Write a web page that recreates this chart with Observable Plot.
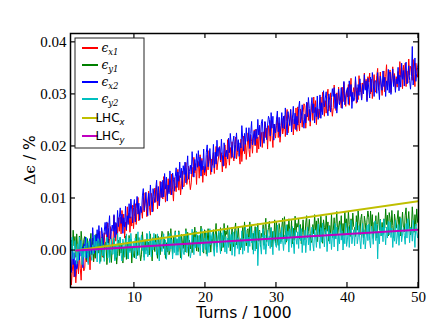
<!DOCTYPE html>
<html><head><meta charset="utf-8">
<script src="https://cdn.jsdelivr.net/npm/d3@7"></script>
<script src="https://cdn.jsdelivr.net/npm/@observablehq/plot@0.6"></script>
<style>body{margin:0;background:#fff;} svg{display:block} svg g.ticklab text{font-family:'Liberation Serif','DejaVu Serif',serif !important;}</style>
</head><body><div id="chart"></div>
<script>
// sample turns (thousands): 1 to 50, every 0.125
const turns = d3.range(1, 50.001, 0.125);

const ex1 = [
-.0023,-.0066,-.0040,-.0017,-.0051,-.0030,-.0062,-.0036,
-.0021,-.0045,-.0005,-.0034,-.0057,-.0012,-.0027,-.0039,
-.0034,-.0004,-.0022,.0015,-.0015,.0003,-.0037,.0008,
-.0009,.0023,-.0022,.0008,-.0015,.0031,.0000,.0017,
.0020,.0037,-.0003,.0025,-.0012,.0009,.0034,.0004,
.0007,.0039,.0053,.0011,.0023,.0046,.0018,.0001,
.0024,.0067,.0041,.0018,.0052,.0031,.0063,.0037,
.0064,.0032,.0077,.0047,.0070,.0024,.0055,.0038,
.0084,.0054,.0072,.0035,.0065,.0047,.0087,.0042,
.0066,.0090,.0050,.0079,.0102,.0057,.0072,.0084,
.0079,.0062,.0102,.0074,.0111,.0090,.0065,.0095,
.0114,.0082,.0068,.0110,.0098,.0075,.0103,.0120,
.0093,.0125,.0080,.0110,.0087,.0133,.0102,.0119,
.0099,.0142,.0116,.0093,.0127,.0106,.0138,.0112,
.0131,.0107,.0147,.0118,.0095,.0140,.0125,.0113,
.0139,.0156,.0116,.0144,.0107,.0128,.0153,.0123,
.0123,.0155,.0169,.0127,.0139,.0162,.0134,.0117,
.0130,.0160,.0142,.0179,.0149,.0167,.0127,.0172,
.0171,.0139,.0184,.0154,.0177,.0131,.0162,.0145,
.0160,.0143,.0183,.0155,.0192,.0171,.0146,.0176,
.0164,.0188,.0148,.0177,.0200,.0155,.0170,.0182,
.0200,.0170,.0188,.0151,.0181,.0163,.0203,.0158,
.0170,.0213,.0187,.0164,.0198,.0177,.0209,.0183,
.0172,.0204,.0218,.0176,.0188,.0211,.0183,.0166,
.0214,.0171,.0197,.0220,.0186,.0207,.0175,.0201,
.0226,.0194,.0180,.0222,.0210,.0187,.0215,.0232,
.0201,.0233,.0188,.0218,.0195,.0241,.0210,.0227,
.0198,.0228,.0210,.0247,.0217,.0235,.0195,.0240,
.0234,.0210,.0250,.0221,.0198,.0243,.0228,.0216,
.0240,.0257,.0217,.0245,.0208,.0229,.0254,.0224,
.0235,.0259,.0219,.0248,.0271,.0226,.0241,.0253,
.0271,.0241,.0259,.0222,.0252,.0234,.0274,.0229,
.0276,.0244,.0230,.0272,.0260,.0237,.0265,.0282,
.0278,.0235,.0261,.0284,.0250,.0271,.0239,.0265,
.0282,.0250,.0295,.0265,.0288,.0242,.0273,.0256,
.0272,.0255,.0295,.0267,.0304,.0283,.0258,.0288,
.0264,.0296,.0310,.0268,.0280,.0303,.0275,.0258,
.0275,.0318,.0292,.0269,.0303,.0282,.0314,.0288,
.0291,.0274,.0314,.0286,.0323,.0302,.0277,.0307,
.0295,.0319,.0279,.0308,.0331,.0286,.0301,.0313,
.0296,.0328,.0283,.0313,.0290,.0336,.0305,.0322,
.0292,.0322,.0304,.0341,.0311,.0329,.0289,.0334,
.0324,.0341,.0301,.0329,.0292,.0313,.0338,.0308,
.0304,.0336,.0350,.0308,.0320,.0343,.0315,.0298,
.0321,.0345,.0305,.0334,.0357,.0312,.0327,.0339,
.0347,.0304,.0330,.0353,.0319,.0340,.0308,.0334,
.0314,.0344,.0326,.0363,.0333,.0351,.0311,.0356,
.0328,.0360,.0315,.0345,.0322,.0368,.0337,.0354,
.0351,.0327,.0367,.0338,.0315,.0360,.0345,.0333,
.0348];

const ey1 = [
-.0010,.0020,.0002,.0039,.0009,.0027,-.0013,.0032,
.0005,-.0012,.0028,.0000,.0037,.0016,-.0009,.0021,
.0027,-.0005,-.0019,.0023,.0011,-.0012,.0016,.0033,
-.0008,.0024,-.0021,.0009,-.0014,.0032,.0001,.0018,
-.0005,.0019,-.0021,.0008,.0031,-.0014,.0001,.0013,
.0016,-.0027,-.0001,.0022,-.0012,.0009,-.0023,.0003,
.0006,.0023,-.0017,.0011,-.0026,-.0005,.0020,-.0010,
.0025,-.0005,.0013,-.0024,.0006,-.0012,.0028,-.0017,
.0016,-.0016,.0029,-.0001,.0022,-.0024,.0007,-.0010,
-.0014,.0018,.0032,-.0010,.0002,.0025,-.0003,-.0020,
-.0007,.0036,.0010,-.0013,.0021,.0000,.0032,.0006,
.0016,-.0008,.0032,.0003,-.0020,.0025,.0010,-.0002,
.0031,-.0001,-.0015,.0027,.0015,-.0008,.0020,.0037,
.0034,.0004,.0022,-.0015,.0015,-.0003,.0037,-.0008,
-.0001,.0042,.0016,-.0007,.0027,.0006,.0038,.0012,
.0022,-.0002,.0038,.0009,-.0014,.0031,.0016,.0004,
.0029,-.0003,.0042,.0012,.0035,-.0011,.0020,.0003,
.0013,-.0004,.0036,.0008,.0045,.0024,-.0001,.0029,
-.0002,.0028,.0010,.0047,.0017,.0035,-.0005,.0040,
.0036,-.0007,.0019,.0042,.0008,.0029,-.0003,.0023,
.0016,.0040,.0000,.0029,.0052,.0007,.0022,.0034,
.0012,.0044,-.0001,.0029,.0006,.0052,.0021,.0038,
.0031,.0048,.0008,.0036,-.0001,.0020,.0045,.0015,
.0007,.0039,.0053,.0011,.0023,.0046,.0018,.0001,
.0023,.0006,.0046,.0018,.0055,.0034,.0009,.0039,
.0042,.0010,.0055,.0025,.0048,.0002,.0033,.0016,
.0046,.0003,.0029,.0052,.0018,.0039,.0007,.0033,
.0026,.0050,.0010,.0039,.0062,.0017,.0032,.0044,
.0056,.0026,.0044,.0007,.0037,.0019,.0059,.0014,
.0056,.0024,.0010,.0052,.0040,.0017,.0045,.0062,
.0022,.0065,.0039,.0016,.0050,.0029,.0061,.0035,
.0026,.0058,.0013,.0043,.0020,.0066,.0035,.0052,
.0045,.0062,.0022,.0050,.0013,.0034,.0059,.0029,
.0021,.0053,.0067,.0025,.0037,.0060,.0032,.0015,
.0020,.0050,.0032,.0069,.0039,.0057,.0017,.0062,
.0050,.0026,.0066,.0037,.0014,.0059,.0044,.0032,
.0067,.0037,.0055,.0018,.0048,.0030,.0070,.0025,
.0039,.0063,.0023,.0052,.0075,.0030,.0045,.0057,
.0035,.0067,.0022,.0052,.0029,.0075,.0044,.0061,
.0033,.0076,.0050,.0027,.0061,.0040,.0072,.0046,
.0044,.0027,.0067,.0039,.0076,.0055,.0030,.0060,
.0070,.0038,.0024,.0066,.0054,.0031,.0059,.0076,
.0063,.0031,.0076,.0046,.0069,.0023,.0054,.0037,
.0067,.0024,.0050,.0073,.0039,.0060,.0028,.0054,
.0031,.0061,.0043,.0080,.0050,.0068,.0028,.0073,
.0061,.0037,.0077,.0048,.0025,.0070,.0055,.0043,
.0060,.0077,.0037,.0065,.0028,.0049,.0074,.0044,
.0036,.0068,.0082,.0040,.0052,.0075,.0047,.0030,
.0041,.0084,.0058,.0035,.0069,.0048,.0080,.0054,
.0060];

const ex2 = [
-.0010,-.0042,.0003,-.0027,-.0004,-.0050,-.0019,-.0036,
-.0030,.0000,-.0018,.0019,-.0011,.0007,-.0033,.0012,
.0009,.0026,-.0014,.0014,-.0023,-.0002,.0023,-.0007,
.0001,.0044,.0018,-.0005,.0029,.0008,.0040,.0014,
.0048,.0016,.0002,.0044,.0032,.0009,.0037,.0054,
.0031,.0055,.0015,.0044,.0067,.0022,.0037,.0049,
.0037,.0069,.0024,.0054,.0031,.0077,.0046,.0063,
.0082,.0052,.0070,.0033,.0063,.0045,.0085,.0040,
.0067,.0050,.0090,.0062,.0099,.0078,.0053,.0083,
.0098,.0055,.0081,.0104,.0070,.0091,.0059,.0085,
.0073,.0105,.0119,.0077,.0089,.0112,.0084,.0067,
.0110,.0086,.0126,.0097,.0074,.0119,.0104,.0092,
.0118,.0135,.0095,.0123,.0086,.0107,.0132,.0102,
.0135,.0103,.0148,.0118,.0141,.0095,.0126,.0109,
.0153,.0121,.0107,.0149,.0137,.0114,.0142,.0159,
.0121,.0151,.0133,.0170,.0140,.0158,.0118,.0163,
.0146,.0170,.0130,.0159,.0182,.0137,.0152,.0164,
.0147,.0190,.0164,.0141,.0175,.0154,.0186,.0160,
.0192,.0162,.0180,.0143,.0173,.0155,.0195,.0150,
.0157,.0189,.0203,.0161,.0173,.0196,.0168,.0151,
.0172,.0204,.0159,.0189,.0166,.0212,.0181,.0198,
.0198,.0174,.0214,.0185,.0162,.0207,.0192,.0180,
.0193,.0176,.0216,.0188,.0225,.0204,.0179,.0209,
.0220,.0177,.0203,.0226,.0192,.0213,.0181,.0207,
.0197,.0240,.0214,.0191,.0225,.0204,.0236,.0210,
.0212,.0236,.0196,.0225,.0248,.0203,.0218,.0230,
.0203,.0233,.0215,.0252,.0222,.0240,.0200,.0245,
.0252,.0220,.0206,.0248,.0236,.0213,.0241,.0258,
.0252,.0220,.0265,.0235,.0258,.0212,.0243,.0226,
.0251,.0268,.0228,.0256,.0219,.0240,.0265,.0235,
.0258,.0234,.0274,.0245,.0222,.0267,.0252,.0240,
.0271,.0228,.0254,.0277,.0243,.0264,.0232,.0258,
.0241,.0273,.0287,.0245,.0257,.0280,.0252,.0235,
.0262,.0245,.0285,.0257,.0294,.0273,.0248,.0278,
.0294,.0264,.0282,.0245,.0275,.0257,.0297,.0252,
.0267,.0299,.0254,.0284,.0261,.0307,.0276,.0293,
.0305,.0273,.0259,.0301,.0289,.0266,.0294,.0311,
.0296,.0313,.0273,.0301,.0264,.0285,.0310,.0280,
.0289,.0313,.0273,.0302,.0325,.0280,.0295,.0307,
.0313,.0281,.0326,.0296,.0319,.0273,.0304,.0287,
.0291,.0334,.0308,.0285,.0319,.0298,.0330,.0304,
.0289,.0319,.0301,.0338,.0308,.0326,.0286,.0331,
.0310,.0293,.0333,.0305,.0342,.0321,.0296,.0326,
.0326,.0302,.0342,.0313,.0290,.0335,.0320,.0308,
.0345,.0315,.0333,.0296,.0326,.0308,.0348,.0303,
.0343,.0300,.0326,.0349,.0315,.0336,.0304,.0330,
.0320,.0352,.0307,.0337,.0314,.0360,.0329,.0346,
.0316,.0348,.0362,.0320,.0332,.0355,.0327,.0310,
.0334,.0392,.0318,.0347,.0370,.0325,.0340,.0352,
.0362];

const ey2 = [
-.0020,.0012,.0026,-.0016,-.0004,.0019,-.0009,-.0026,
.0013,-.0019,.0026,-.0004,.0019,-.0027,.0004,-.0013,
.0009,-.0015,.0025,-.0004,-.0027,.0018,.0003,-.0009,
-.0019,.0011,-.0007,.0030,.0000,.0018,-.0022,.0023,
.0018,-.0025,.0001,.0024,-.0010,.0011,-.0021,.0005,
.0009,.0026,-.0014,.0014,-.0023,-.0002,.0023,-.0007,
-.0007,.0025,-.0020,.0010,-.0013,.0033,.0002,.0019,
.0026,-.0006,-.0020,.0022,.0010,-.0013,.0015,.0032,
.0001,-.0016,.0024,-.0004,.0033,.0012,-.0013,.0017,
.0000,.0024,-.0016,.0013,.0036,-.0009,.0006,.0018,
.0030,.0000,.0018,-.0019,.0011,-.0007,.0033,-.0012,
-.0006,.0037,.0011,-.0012,.0022,.0001,.0033,.0007,
.0016,-.0008,.0032,.0003,-.0020,.0025,.0010,-.0002,
.0015,.0032,-.0008,.0020,-.0017,.0004,.0029,-.0001,
.0033,.0003,.0021,-.0016,.0014,-.0004,.0036,-.0009,
.0023,-.0009,.0036,.0006,.0029,-.0017,.0014,-.0003,
-.0008,.0024,.0038,-.0004,.0008,.0031,.0003,-.0014,
-.0002,.0041,.0015,-.0008,.0026,.0005,.0037,.0011,
.0006,.0030,-.0010,.0019,.0042,-.0003,.0012,.0024,
.0002,.0034,-.0011,.0019,-.0004,.0042,.0011,.0028,
.0035,.0003,-.0011,.0031,.0019,-.0004,.0024,.0041,
.0011,-.0006,.0034,.0006,.0043,.0022,-.0003,.0027,
-.0006,.0024,.0006,.0043,.0013,.0031,-.0009,.0036,
.0032,-.0011,.0015,.0038,.0004,.0025,-.0007,.0019,
.0006,.0038,-.0007,.0023,.0000,.0046,.0015,.0032,
-.0004,.0026,.0008,.0045,.0015,.0033,-.0007,.0038,
-.0001,.0031,.0045,-.0029,.0015,.0038,.0010,-.0007,
.0025,.0042,.0002,.0030,-.0007,.0014,.0039,.0009,
.0028,.0004,.0044,.0015,-.0008,.0037,.0022,.0010,
.0006,.0049,.0023,.0000,.0034,.0013,.0045,.0019,
.0000,.0030,.0012,.0049,.0019,.0037,-.0003,.0042,
.0030,.0006,.0046,.0017,-.0006,.0039,.0024,.0012,
.0036,.0004,.0049,.0019,.0042,-.0004,.0027,.0010,
.0039,-.0004,.0022,.0045,.0011,.0032,.0000,.0026,
.0045,.0013,-.0001,.0041,.0029,.0006,.0034,.0051,
.0021,.0004,.0044,.0016,.0053,.0032,.0007,.0037,
.0041,-.0002,.0024,.0047,.0013,.0034,.0002,.0028,
.0039,.0007,.0052,.0022,.0045,-.0001,.0030,.0013,
.0050,.0020,.0038,.0001,.0031,.0013,.0053,.0008,
.0022,.0046,.0006,.0035,.0058,.0013,.0028,.0040,
.0009,.0041,.0055,.0013,.0025,.0048,.0020,.0003,
.0035,.0052,.0012,.0040,.0003,.0024,.0049,.0019,
.0051,.0019,.0005,.0047,.0035,.0012,.0040,.0057,
.0019,.0051,-.0016,.0036,.0013,.0059,.0028,.0045,
.0017,.0060,.0034,.0011,.0045,.0024,.0056,.0030,
.0055,.0025,.0043,.0006,.0036,.0018,.0058,.0013,
.0026,.0050,.0010,.0039,.0062,.0017,.0032,.0044,
.0029,.0012,.0052,.0024,.0061,.0040,.0015,.0045,
.0042,.0018,.0058,.0029,.0006,.0051,.0036,.0024,
.0035];

const lhcTurns = [1.8, 50];
const lhcX = [0.0000, 0.0095];
const lhcY = [0.0000, 0.0040];

const xTicks = [10, 20, 30, 40, 50];
const yTicks = [0, 0.01, 0.02, 0.03, 0.04];

const colors = {ex1:"#ff0000", ey1:"#008000", ex2:"#0000ff", ey2:"#00bfbf", lx:"#bfbf00", ly:"#bf00bf"};

const rows = vals => turns.map((t, i) => ({t, v: vals[i]}));
const lrows = vals => lhcTurns.map((t, i) => ({t, v: vals[i]}));

const serif = "'Liberation Serif', 'DejaVu Serif', serif";
const sans = "'DejaVu Sans', sans-serif";

const plot = Plot.plot({
  width: 436, height: 329,
  marginLeft: 70, marginRight: 18, marginTop: 33, marginBottom: 42,
  style: {fontFamily: serif, fontSize: "15px", background: "white", color: "black"},
  x: {domain: [1, 50], ticks: xTicks, tickSize: 0, tickPadding: 4, label: null},
  y: {domain: [-0.0071, 0.0417], ticks: yTicks, tickSize: 0, tickPadding: 4, tickFormat: d3.format(".2f"), label: null},
  marks: [
    Plot.line(rows(ex1), {x: "t", y: "v", stroke: colors.ex1, strokeWidth: 1, clip: true}),
    Plot.line(rows(ey1), {x: "t", y: "v", stroke: colors.ey1, strokeWidth: 1, clip: true}),
    Plot.line(rows(ex2), {x: "t", y: "v", stroke: colors.ex2, strokeWidth: 1, clip: true}),
    Plot.line(rows(ey2), {x: "t", y: "v", stroke: colors.ey2, strokeWidth: 1, clip: true}),
    Plot.line(lrows(lhcX), {x: "t", y: "v", stroke: colors.lx, strokeWidth: 2, clip: true}),
    Plot.line(lrows(lhcY), {x: "t", y: "v", stroke: colors.ly, strokeWidth: 2, clip: true}),
    Plot.frame({stroke: "black", strokeWidth: 1.5})
  ]
});

document.getElementById("chart").appendChild(plot);

const svg = d3.select(plot);
svg.attr("font-family", serif);
// force serif tick labels (every Plot-generated text that is an axis tick label)
svg.selectAll("g[aria-label*='tick']").classed("ticklab", true)
  .attr("font-family", serif).attr("font-size", 15);
svg.selectAll("g[aria-label*='tick'] text")
  .attr("font-family", serif).style("font-family", serif).style("font-size", "15px");

const sx = plot.scale("x"), sy = plot.scale("y");
const [yb, yt] = sy.range;   // bottom, top
const [xl, xr] = sx.range;
const g = svg.append("g").attr("stroke", "black").attr("stroke-width", 1.2);
xTicks.forEach(v => {
  const px = sx.apply(v);
  g.append("line").attr("x1", px).attr("x2", px).attr("y1", yb).attr("y2", yb - 5);
  g.append("line").attr("x1", px).attr("x2", px).attr("y1", yt).attr("y2", yt + 5);
});
yTicks.forEach(v => {
  const py = sy.apply(v);
  g.append("line").attr("x1", xl).attr("x2", xl + 5).attr("y1", py).attr("y2", py);
  g.append("line").attr("x1", xr).attr("x2", xr - 5).attr("y1", py).attr("y2", py);
});

// axis titles
svg.append("text").attr("x", (xl + xr) / 2).attr("y", 318).attr("text-anchor", "middle")
  .attr("font-family", sans).attr("font-size", 15.5).attr("fill", "black")
  .text("Turns / 1000");
const yl = svg.append("text").attr("transform", `translate(35,${(yb + yt) / 2}) rotate(-90)`)
  .attr("text-anchor", "middle").attr("font-size", 15.5).attr("fill", "black")
  .attr("font-family", sans);
yl.append("tspan").attr("font-family", "'DejaVu Serif', serif").text("Δϵ");
yl.append("tspan").text(" / %");

// legend
const legendItems = [
  {c: colors.ex1, main: "ϵ", sub: "x1", math: true},
  {c: colors.ey1, main: "ϵ", sub: "y1", math: true},
  {c: colors.ex2, main: "ϵ", sub: "x2", math: true},
  {c: colors.ey2, main: "ϵ", sub: "y2", math: true},
  {c: colors.lx, main: "LHC", sub: "x", math: false},
  {c: colors.ly, main: "LHC", sub: "y", math: false}
];
const lg = svg.append("g");
lg.append("rect").attr("x", xl + 5).attr("y", yt + 5).attr("width", 69).attr("height", 110)
  .attr("fill", "white").attr("stroke", "#222").attr("stroke-width", 1);
const rowY = [48, 65, 82, 99, 118, 136];
legendItems.forEach((it, i) => {
  const y = rowY[i];
  lg.append("line").attr("x1", xl + 12).attr("x2", xl + 28).attr("y1", y).attr("y2", y)
    .attr("stroke", it.c).attr("stroke-width", 2);
  const t = lg.append("text").attr("x", xl + 40).attr("y", y + 4).attr("fill", "black");
  if (it.math) {
    t.attr("font-family", "'DejaVu Serif', serif").attr("font-size", 12).attr("font-style", "italic");
    t.append("tspan").text(it.main);
    t.append("tspan").attr("font-size", 8.5).attr("dy", 3).text(it.sub);
  } else {
    t.attr("font-family", sans).attr("font-size", 12).attr("font-style", "normal");
    t.append("tspan").text(it.main);
    t.append("tspan").attr("font-size", 8.5).attr("font-style", "italic").attr("dy", 3).text(it.sub);
  }
});
</script>
</body></html>
